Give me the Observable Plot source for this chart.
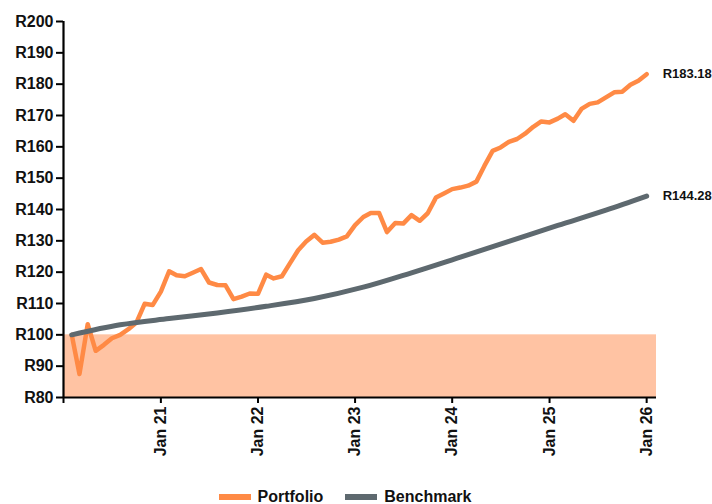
<!DOCTYPE html>
<html>
<head>
<meta charset="utf-8">
<script src="https://cdn.jsdelivr.net/npm/d3@7"></script>
<script src="https://cdn.jsdelivr.net/npm/@observablehq/plot@0.6"></script>
<style>
  body { margin: 0; background: #fff; font-family: "Liberation Sans", Arial, sans-serif; }
  #chart { width: 712px; }
  .legend { display: flex; justify-content: center; align-items: center; gap: 22px; height: 20px; padding-top: 3px; font-weight: bold; font-size: 16px; color: #111; margin-left: -22px; }
  .legend .item { display: flex; align-items: center; gap: 7px; }
  .legend .sw { width: 32px; height: 6px; display: inline-block; }
</style>
</head>
<body>
<div id="chart"></div>
<script>
// ---- data ----
const portfolioStart = "2020-02-01"; // first monthly observation
const portfolioValues = [
  100.0, 87.5, 103.4, 94.9, 96.8, 98.9, 100.0, 101.8, 103.9, 109.9, 109.5, 113.8,
  120.3, 119.0, 118.7, 119.8, 121.0, 116.7, 115.9, 115.8, 111.4, 112.2, 113.2, 113.1,
  119.2, 118.0, 118.7, 122.8, 127.0, 129.8, 131.9, 129.4, 129.7, 130.4, 131.4, 135.0,
  137.6, 138.9, 138.9, 132.8, 135.7, 135.5, 138.2, 136.4, 138.8, 143.8, 145.1, 146.5,
  147.0, 147.6, 148.9, 153.9, 158.7, 159.8, 161.6, 162.5, 164.2, 166.4, 168.1, 167.8,
  169.0, 170.4, 168.3, 172.1, 173.7, 174.2, 175.8, 177.4, 177.6, 179.8, 181.1, 183.18
];
const benchmarkDates = [
  "2020-02-01", "2020-08-01", "2021-02-01", "2021-08-01", "2022-02-01", "2022-08-01",
  "2023-02-01", "2023-08-01", "2024-02-01", "2024-08-01", "2025-02-01", "2025-08-01", "2026-01-01"
];
const benchmarkValues = [100.0, 103.2, 105.2, 107.0, 109.1, 111.6, 115.2, 119.8, 124.8, 129.8, 134.9, 139.8, 144.28];
const seriesNames = ["Portfolio", "Benchmark"];
const seriesColors = ["#FF8A45", "#5E696F"];
const yTicks = [80, 90, 100, 110, 120, 130, 140, 150, 160, 170, 180, 190, 200];
const xTickYears = [2020, 2021, 2022, 2023, 2024, 2025, 2026];
const baseline = 100;
const yMin = 80, yMax = 200;
const xDomain = ["2020-01-01", "2026-02-07"];

// ---- build tables ----
const parse = s => new Date(s + "T00:00:00Z");
const pStart = parse(portfolioStart);
const portfolio = portfolioValues.map((v, i) => ({
  date: d3.utcMonth.offset(pStart, i), value: v
}));
const benchmark = benchmarkDates.map((d, i) => ({ date: parse(d), value: benchmarkValues[i] }));
const x0 = parse(xDomain[0]), x1 = parse(xDomain[1]);
const xTicks = xTickYears.map(y => new Date(Date.UTC(y, 0, 1)));
const endLabels = [
  { ...portfolio[portfolio.length - 1], color: seriesColors[0] },
  { ...benchmark[benchmark.length - 1], color: seriesColors[1] }
];
const band = [{ x1: x0, x2: x1, y1: yMin, y2: baseline }];

const chart = Plot.plot({
  width: 712,
  height: 484,
  marginLeft: 63,
  marginRight: 56,
  marginTop: 21,
  marginBottom: 87,
  style: { fontFamily: "'Liberation Sans', Arial, sans-serif", fontWeight: "bold", color: "#111", background: "#fff" },
  x: { type: "utc", domain: [x0, x1] },
  y: { domain: [yMin, yMax] },
  marks: [
    Plot.rect(band, { x1: "x1", x2: "x2", y1: "y1", y2: "y2", fill: "#FFC3A3" }),
    Plot.axisY({
      ticks: yTicks, tickFormat: d => "R" + d, tickSize: 7, tickPadding: 3,
      fontSize: 16, fontWeight: "bold", strokeWidth: 2, stroke: "#000", fill: "#111", label: null
    }),
    Plot.axisX({
      ticks: xTicks,
      tickFormat: d => d.getUTCFullYear() === 2020 ? "" : "Jan " + String(d.getUTCFullYear()).slice(2),
      tickRotate: -90, tickSize: 6, tickPadding: 3,
      fontSize: 16, fontWeight: "bold", strokeWidth: 2, stroke: "#000", fill: "#111", label: null
    }),
    Plot.ruleX([x0], { stroke: "#000", strokeWidth: 2.2 }),
    Plot.ruleY([yMin], { stroke: "#000", strokeWidth: 2.2 }),
    Plot.line(portfolio, { x: "date", y: "value", stroke: seriesColors[0], strokeWidth: 4.5, strokeLinejoin: "round", strokeLinecap: "round" }),
    Plot.line(benchmark, { x: "date", y: "value", stroke: seriesColors[1], strokeWidth: 5, curve: "monotone-x", strokeLinecap: "round" }),
    Plot.text(endLabels, {
      x: "date", y: "value", text: d => "R" + d.value.toFixed(2),
      dx: 16, textAnchor: "start", fontSize: 13, fontWeight: "bold", fill: "#111"
    })
  ]
});
document.getElementById("chart").appendChild(chart);

// legend
const legend = document.createElement("div");
legend.className = "legend";
seriesNames.forEach((n, i) => {
  const it = document.createElement("span");
  it.className = "item";
  const sw = document.createElement("span");
  sw.className = "sw";
  sw.style.background = seriesColors[i];
  const t = document.createElement("span");
  t.textContent = n;
  it.appendChild(sw); it.appendChild(t);
  legend.appendChild(it);
});
document.body.appendChild(legend);
</script>
</body>
</html>
